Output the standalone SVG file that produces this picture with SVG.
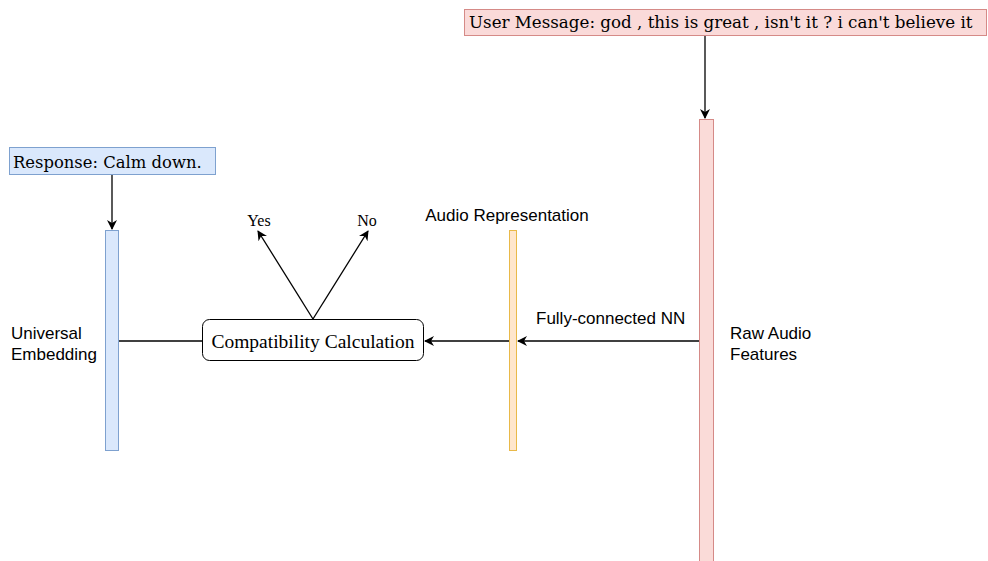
<svg xmlns="http://www.w3.org/2000/svg" width="988" height="561" viewBox="0 0 988 561">
<defs>
<style>
.dserif{font-family:"DejaVu Serif",serif;fill:#000}
.serif{font-family:"Liberation Serif","Times New Roman",serif;fill:#000}
.sans{font-family:"Liberation Sans",Arial,sans-serif;font-size:17px;fill:#000}
.line{stroke:#000;stroke-width:1.3;fill:none}
</style>
<marker id="arr" viewBox="0 0 10 10" refX="9" refY="5" markerWidth="10" markerHeight="10" markerUnits="userSpaceOnUse" orient="auto">
<path d="M0,0 L10,5 L0,10 L3,5 z" fill="#000"/>
</marker>
</defs>
<rect width="988" height="561" fill="#fff"/>
<g id="user-message">
<rect x="464.5" y="9.5" width="522" height="26" fill="#f8cecc" fill-opacity="0.75" stroke="#d58a87"/>
<text class="dserif" x="469" y="28" font-size="16.7">User Message: god , this is great , isn't it ? i can't believe it</text>
</g>
<g id="raw-audio">
<rect x="699.5" y="119.5" width="14" height="450" fill="#fadbd8" stroke="#d58a87"/>
<text class="sans" x="730" y="339">Raw Audio</text>
<text class="sans" x="730" y="360">Features</text>
</g>
<g id="response">
<rect x="9.5" y="147.5" width="206" height="27" fill="#dae8fc" stroke="#7ea1cf"/>
<text class="dserif" x="13" y="168" font-size="16.4">Response: Calm down.</text>
</g>
<g id="universal-embedding">
<rect x="105.5" y="230.5" width="13" height="220" fill="#dae8fc" stroke="#7ea1cf"/>
<text class="sans" x="11" y="339">Universal</text>
<text class="sans" x="11" y="360">Embedding</text>
</g>
<g id="audio-representation">
<rect x="509.5" y="230.5" width="7" height="220" fill="#ffe6cc" stroke="#e9b949"/>
<text class="sans" x="507" y="221" text-anchor="middle">Audio Representation</text>
</g>
<g id="compatibility">
<rect x="202.5" y="319.5" width="221" height="41" rx="7" fill="#fff" stroke="#000"/>
<text class="serif" x="313" y="348" font-size="19.5" text-anchor="middle">Compatibility Calculation</text>
</g>
<g id="yes"><text class="serif" x="259" y="226" font-size="16" text-anchor="middle">Yes</text></g>
<g id="no"><text class="serif" x="367" y="226" font-size="16" text-anchor="middle">No</text></g>
<g id="connectors">
<line class="line" x1="705" y1="36" x2="705" y2="118" marker-end="url(#arr)"/>
<line class="line" x1="112" y1="175" x2="112" y2="229" marker-end="url(#arr)"/>
<line class="line" x1="119" y1="341" x2="202" y2="341"/>
<line class="line" x1="699" y1="341" x2="518" y2="341" marker-end="url(#arr)"/>
<line class="line" x1="509" y1="341" x2="425" y2="341" marker-end="url(#arr)"/>
<line class="line" x1="313" y1="319" x2="258" y2="231" marker-end="url(#arr)"/>
<line class="line" x1="313" y1="319" x2="368" y2="231" marker-end="url(#arr)"/>
<text class="sans" x="536" y="324">Fully-connected NN</text>
</g>
</svg>
